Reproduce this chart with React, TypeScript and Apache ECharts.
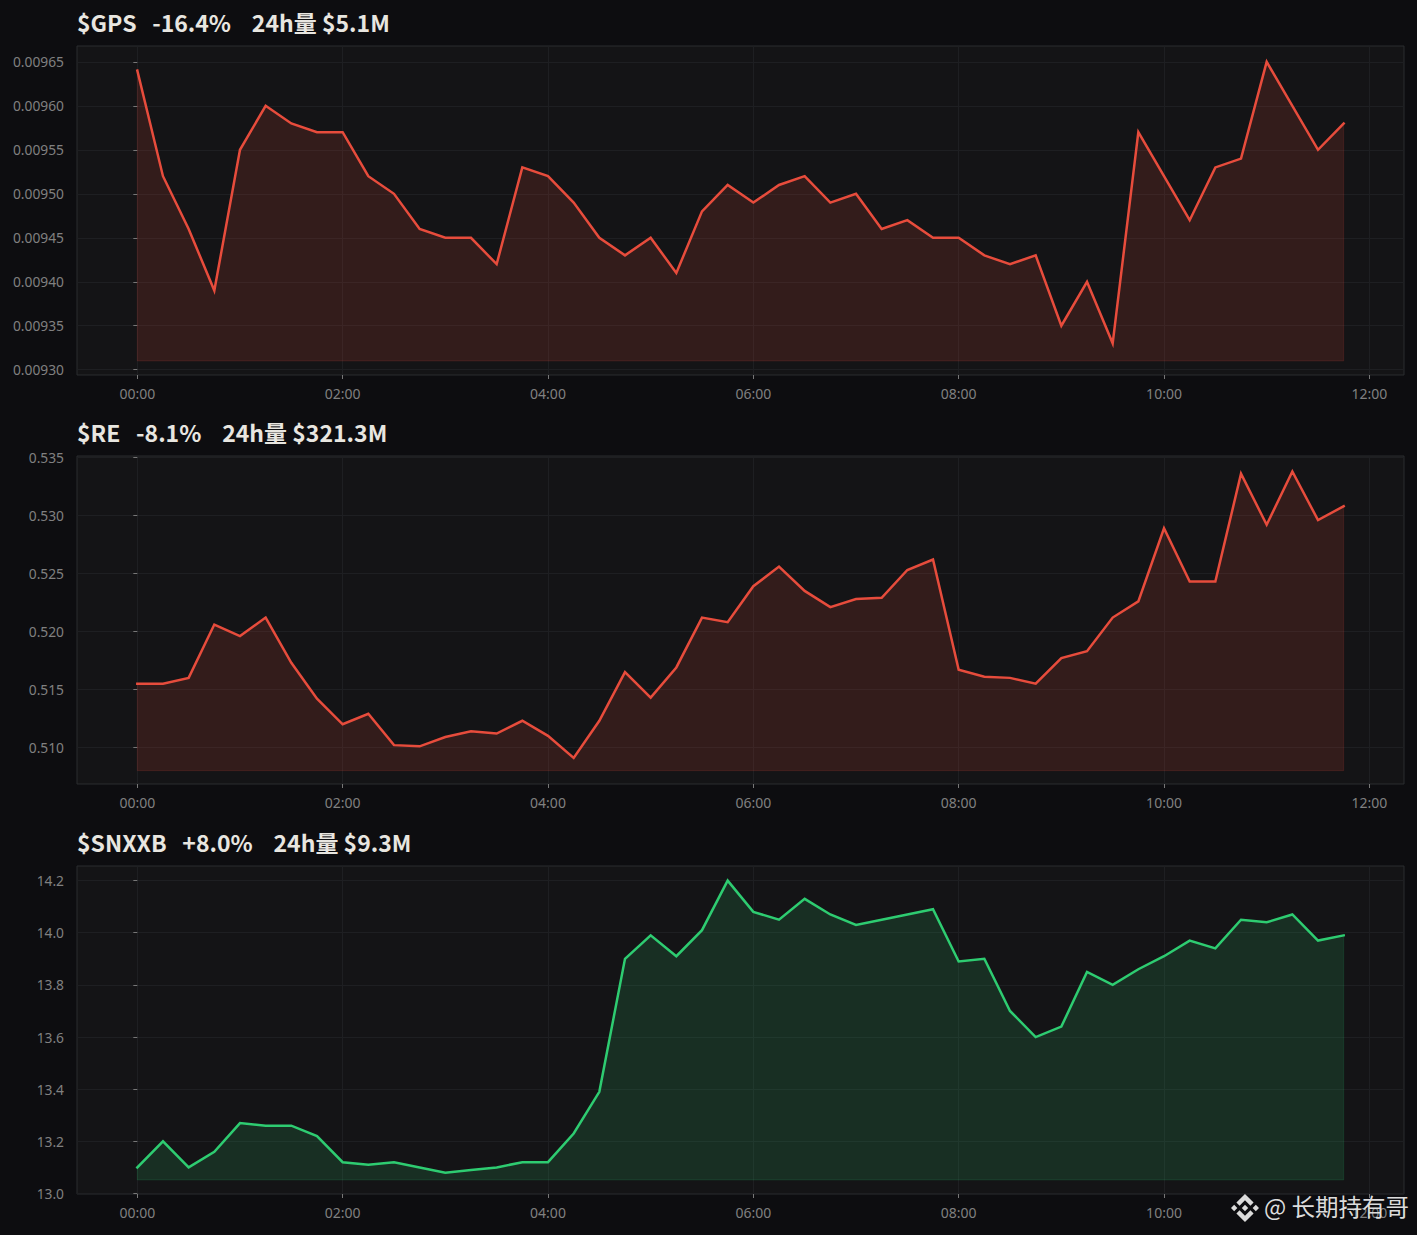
import React, { useEffect, useRef } from "react";
import * as echarts from "echarts";

const minutes = [0,15,30,45,60,75,90,105,120,135,150,165,180,195,210,225,240,255,270,285,300,315,330,345,360,375,390,405,420,435,450,465,480,495,510,525,540,555,570,585,600,615,630,645,660,675,690,705];
const timeTicks = [0,120,240,360,480,600,720];

const gpsValues = [0.00964,0.00952,0.00946,0.00939,0.00955,0.0096,0.00958,0.00957,0.00957,0.00952,0.0095,0.00946,0.00945,0.00945,0.00942,0.00953,0.00952,0.00949,0.00945,0.00943,0.00945,0.00941,0.00948,0.00951,0.00949,0.00951,0.00952,0.00949,0.0095,0.00946,0.00947,0.00945,0.00945,0.00943,0.00942,0.00943,0.00935,0.0094,0.00933,0.00957,0.00952,0.00947,0.00953,0.00954,0.00965,0.0096,0.00955,0.00958];
const reValues = [0.5155,0.5155,0.516,0.5206,0.5196,0.5212,0.5173,0.5142,0.512,0.5129,0.5102,0.5101,0.5109,0.5114,0.5112,0.5123,0.511,0.5091,0.5123,0.5165,0.5143,0.5169,0.5212,0.5208,0.5239,0.5256,0.5235,0.5221,0.5228,0.5229,0.5253,0.5262,0.5167,0.5161,0.516,0.5155,0.5177,0.5183,0.5212,0.5226,0.5289,0.5243,0.5243,0.5336,0.5292,0.5338,0.5296,0.5308];
const snxxbValues = [13.1,13.2,13.1,13.16,13.27,13.26,13.26,13.22,13.12,13.11,13.12,13.1,13.08,13.09,13.1,13.12,13.12,13.23,13.39,13.9,13.99,13.91,14.01,14.2,14.08,14.05,14.13,14.07,14.03,14.05,14.07,14.09,13.89,13.9,13.7,13.6,13.64,13.85,13.8,13.86,13.91,13.97,13.94,14.05,14.04,14.07,13.97,13.99];

const gpsTicks = [0.0093,0.00935,0.0094,0.00945,0.0095,0.00955,0.0096,0.00965];
const reTicks = [0.51,0.515,0.52,0.525,0.53,0.535];
const snxxbTicks = [13.0,13.2,13.4,13.6,13.8,14.0,14.2];

const titles = ["$GPS   -16.4%    24h量 $5.1M", "$RE   -8.1%    24h量 $321.3M", "$SNXXB   +8.0%    24h量 $9.3M"];
const watermark = "@ 长期持有哥";

const RED = "#e74c3c";
const GREEN = "#2ecc71";
const FONT = '"Noto Sans CJK SC","Noto Sans",sans-serif';
const LABEL_FONT = '"Noto Sans",sans-serif';

const panels = [
  { title: titles[0], values: gpsValues, ticks: gpsTicks, digits: 5, color: RED, base: 0.00931, min: 0.009294, max: 0.009668, top: 46, height: 329 },
  { title: titles[1], values: reValues, ticks: reTicks, digits: 3, color: RED, base: 0.508, min: 0.50685, max: 0.53513, top: 456, height: 328 },
  { title: titles[2], values: snxxbValues, ticks: snxxbTicks, digits: 1, color: GREEN, base: 13.052, min: 12.998, max: 14.256, top: 866, height: 328 },
];

const LOGO = "M38.73 53.2L63.3 28.63l24.6 24.6 14.3-14.31L63.3 0 24.42 38.88zM0 63.31l14.31-14.31 14.31 14.31-14.31 14.31zM38.73 73.41L63.3 97.98l24.6-24.6 14.31 14.29-38.91 38.94-38.88-38.88zM97.99 63.31l14.31-14.31 14.31 14.31-14.31 14.31zM77.83 63.3L63.3 48.76 52.56 59.5l-1.24 1.23-2.54 2.54 14.52 14.54L77.83 63.3z";

function fmtTime(v: number) {
  const h = Math.floor(v / 60);
  return String(h).padStart(2, "0") + ":00";
}

export default function App() {
  const ref = useRef<HTMLDivElement>(null);
  useEffect(() => {
    document.body.style.margin = "0";
    document.body.style.background = "#0d0d10";
    echarts.graphic.registerShape("binanceLogo", echarts.graphic.extendPath(LOGO, {}) as any);
    const chart = echarts.init(ref.current!, null, { renderer: "svg" });
    const series: any[] = [];
    panels.forEach((p, i) => {
      const first = minutes[0];
      const last = minutes[minutes.length - 1];
      series.push({
        type: "line", xAxisIndex: i, yAxisIndex: i, silent: true, symbol: "none",
        data: [[first, p.values[0]], [first, p.base], [last, p.base], [last, p.values[p.values.length - 1]]],
        lineStyle: { color: p.color, opacity: 0.15, width: 1 }, z: 2,
      });
      series.push({
        type: "line", xAxisIndex: i, yAxisIndex: i, silent: true, symbol: "none",
        data: minutes.map((m, k) => [m, p.values[k]]),
        lineStyle: { color: p.color, width: 2.5, join: "miter", cap: "square" },
        areaStyle: { color: p.color, opacity: 0.15, origin: p.base }, z: 3,
      });
    });
    chart.setOption({
      animation: false,
      backgroundColor: "#0d0d10",
      title: panels.map((p) => ({
        text: p.title, left: 77, top: p.top - 38,
        textStyle: { color: "#e8e6e0", fontFamily: FONT, fontSize: 23, fontWeight: 600, lineHeight: 28 },
        padding: 0,
      })),
      grid: panels.map((p) => ({
        left: 77, right: 13, top: p.top, height: p.height, show: true,
        backgroundColor: "#141416", borderColor: "#2b2c2f", borderWidth: 1, containLabel: false,
      })),
      xAxis: panels.map((_, i) => ({
        type: "value", gridIndex: i, min: -35.25, max: 740.25,
        axisLine: { show: false },
        axisTick: { show: true, length: 4, lineStyle: { color: "#777" }, customValues: timeTicks },
        axisLabel: { color: "#808080", fontFamily: LABEL_FONT, fontSize: 14, margin: 11, customValues: timeTicks, formatter: fmtTime, hideOverlap: false },
        splitLine: { show: true, lineStyle: { color: "#1e1f22", width: 1 } },
      })),
      yAxis: panels.map((p, i) => ({
        type: "value", gridIndex: i, min: p.min, max: p.max,
        axisLine: { show: false },
        axisTick: { show: true, length: 4, lineStyle: { color: "#777" }, customValues: p.ticks },
        axisLabel: { color: "#808080", fontFamily: LABEL_FONT, fontSize: 13.8, margin: 13, customValues: p.ticks, formatter: (v: number) => v.toFixed(p.digits), hideOverlap: false },
        splitLine: { show: true, lineStyle: { color: "#1e1f22", width: 1 } },
      })),
      series,
      graphic: [
        { type: "binanceLogo", x: 1231, y: 1194, scaleX: 0.221, scaleY: 0.221, z: 100, style: { fill: "#dcdcdc" } },
        {
          type: "text", x: 1264, y: 1206, z: 100,
          style: { text: watermark, fill: "#dcdcdc", font: '23.5px "Noto Sans CJK SC",sans-serif', textVerticalAlign: "middle", shadowColor: "#000", shadowBlur: 2 },
        },
      ],
    });
    return () => chart.dispose();
  }, []);
  return <div ref={ref} style={{ width: 1417, height: 1235 }} />;
}
